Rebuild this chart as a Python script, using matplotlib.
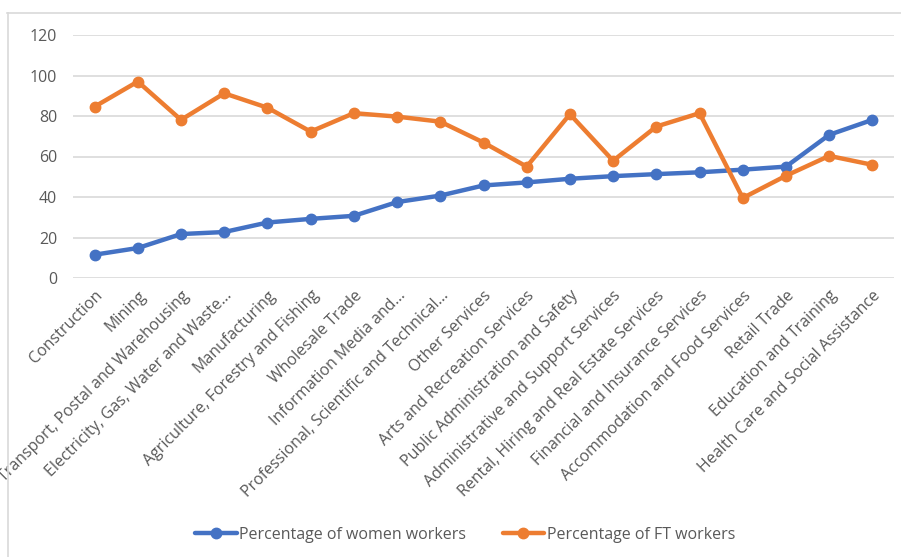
import matplotlib
matplotlib.use("Agg")
import matplotlib.pyplot as plt
from matplotlib.lines import Line2D

categories = [
    "Construction", "Mining", "Transport, Postal and Warehousing",
    "Electricity, Gas, Water and Waste...", "Manufacturing",
    "Agriculture, Forestry and Fishing", "Wholesale Trade",
    "Information Media and...", "Professional, Scientific and Technical...",
    "Other Services", "Arts and Recreation Services",
    "Public Administration and Safety", "Administrative and Support Services",
    "Rental, Hiring and Real Estate Services", "Financial and Insurance Services",
    "Accommodation and Food Services", "Retail Trade",
    "Education and Training", "Health Care and Social Assistance",
]
women_pct = [11.5, 14.8, 21.7, 22.7, 27.4, 29.2, 30.7, 37.5, 40.7, 45.7,
             47.2, 49.0, 50.3, 51.3, 52.2, 53.5, 55.0, 70.7, 78.1]
ft_pct = [84.6, 97.0, 78.1, 91.2, 84.1, 72.3, 81.4, 79.7, 77.2, 66.9,
          55.0, 80.9, 57.9, 74.8, 81.4, 39.5, 50.5, 60.3, 55.9]
yticks = [0, 20, 40, 60, 80, 100, 120]

W, H = 901, 557
fig = plt.figure(figsize=(W / 100, H / 100), dpi=100)
plt.rcParams['font.family'] = ['Open Sans', 'DejaVu Sans']
ax = fig.add_axes([73 / W, 1 - 278 / H, (894 - 73) / W, (278 - 35) / H])

x = list(range(len(categories)))
blue = "#4472C4"
orange = "#ED7D31"
ax.plot(x, women_pct, color=blue, lw=3.2, marker="o", ms=7.5,
        label="Percentage of women workers", solid_capstyle="round", zorder=3)
ax.plot(x, ft_pct, color=orange, lw=3.2, marker="o", ms=7.5,
        label="Percentage of FT workers", solid_capstyle="round", zorder=3)

ax.set_xlim(-0.5, len(categories) - 0.5)
ax.set_ylim(0, 120)
ax.set_yticks(yticks)
ax.set_yticklabels([str(v) for v in yticks])
ax.yaxis.grid(True, color="#D9D9D9", lw=1.2)
ax.set_axisbelow(True)
for s in ax.spines.values():
    s.set_visible(False)
ax.tick_params(axis="both", length=0, colors="#595959", labelsize=11.5)
ax.tick_params(axis="y", pad=11.5)
ax.set_xticks(x)
ax.set_xticklabels(categories, rotation=45, ha="right", rotation_mode="anchor")
ax.tick_params(axis="x", pad=7)

leg = fig.legend(loc="center", bbox_to_anchor=(465 / W, 1 - 535 / H), ncol=2,
                 frameon=False, fontsize=11.5, handlelength=2.6, columnspacing=2.3,
                 handletextpad=0.15, labelcolor="#595959")

fig.add_artist(Line2D([7 / W, 1], [1 - 13 / H, 1 - 13 / H], color="#D9D9D9", lw=1.2))
fig.add_artist(Line2D([8 / W, 8 / W], [1 - 13 / H, 0], color="#D9D9D9", lw=1.2))

fig.savefig("out.png", dpi=100)
